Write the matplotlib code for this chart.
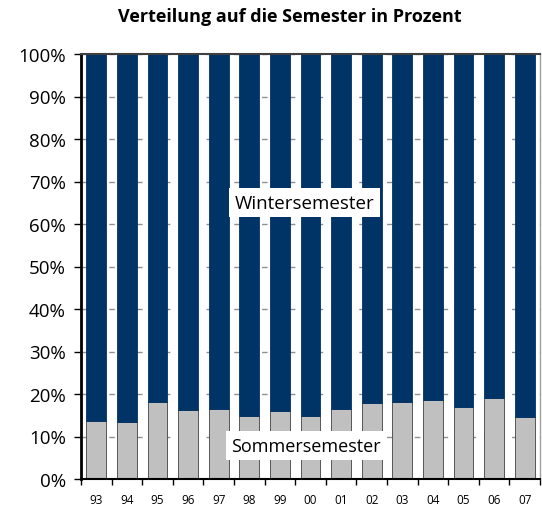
import matplotlib
matplotlib.use("Agg")
import matplotlib.pyplot as plt
import numpy as np
from matplotlib.ticker import FixedLocator, PercentFormatter

years = ["93", "94", "95", "96", "97", "98", "99", "00", "01", "02", "03", "04", "05", "06", "07"]
sommer = [13.6, 13.4, 18.2, 16.2, 16.4, 14.9, 16.0, 14.8, 16.4, 17.8, 18.2, 18.7, 16.9, 19.0, 14.5]
winter = [100 - s for s in sommer]

plt.rcParams['font.family'] = ['Open Sans', 'DejaVu Sans']

fig = plt.figure(figsize=(5.42, 5.06), dpi=100)
ax = fig.add_axes([81/542, 1-480/506, (540-81)/542, (480-55)/506])

x = np.arange(len(years))
ax.set_axisbelow(True)
ax.yaxis.grid(True, color='#909090', linewidth=1.0, linestyle=(0, (4, 6)))
ax.bar(x, sommer, width=0.65, color='#C0C0C0', edgecolor='#404040', linewidth=0.6, zorder=2)
ax.bar(x, winter, bottom=sommer, width=0.65, color='#003366', edgecolor='#003366', linewidth=0.6, zorder=2)

ax.set_xlim(-0.5, len(years) - 0.5)
ax.set_ylim(0, 100)
ax.set_yticks(np.arange(0, 101, 10))
ax.yaxis.set_major_formatter(PercentFormatter(decimals=0))
ax.set_xticks(x)
ax.set_xticklabels(years, fontsize=8.5)
ax.xaxis.set_minor_locator(FixedLocator(np.arange(-0.5, len(years), 1)))
ax.tick_params(axis='x', which='major', length=0, pad=10)
ax.tick_params(axis='x', which='minor', length=4, direction='out', width=1, color='black')
ax.tick_params(axis='y', length=5, direction='out', width=1, labelsize=13.5, color='black', pad=6)

ax.spines['left'].set_linewidth(2)
ax.spines['left'].set_color('black')
ax.spines['bottom'].set_linewidth(1.5)
ax.spines['bottom'].set_color('black')
ax.spines['top'].set_color('#404040')
ax.spines['top'].set_linewidth(1.5)
ax.spines['right'].set_color('#A0A0A0')
ax.spines['right'].set_linewidth(1)

ax.text(6.8, 65, "Wintersemester", fontsize=13.5, ha='center', va='center', zorder=5,
        bbox=dict(facecolor='white', edgecolor='none', pad=4))
ax.text(6.85, 7.8, "Sommersemester", fontsize=13, ha='center', va='center', zorder=5,
        bbox=dict(facecolor='white', edgecolor='none', pad=4))

fig.text(290/542, 1-17/506, "Verteilung auf die Semester in Prozent", fontsize=13,
         fontweight='bold', ha='center', va='center')

fig.savefig("out.png", dpi=100)
